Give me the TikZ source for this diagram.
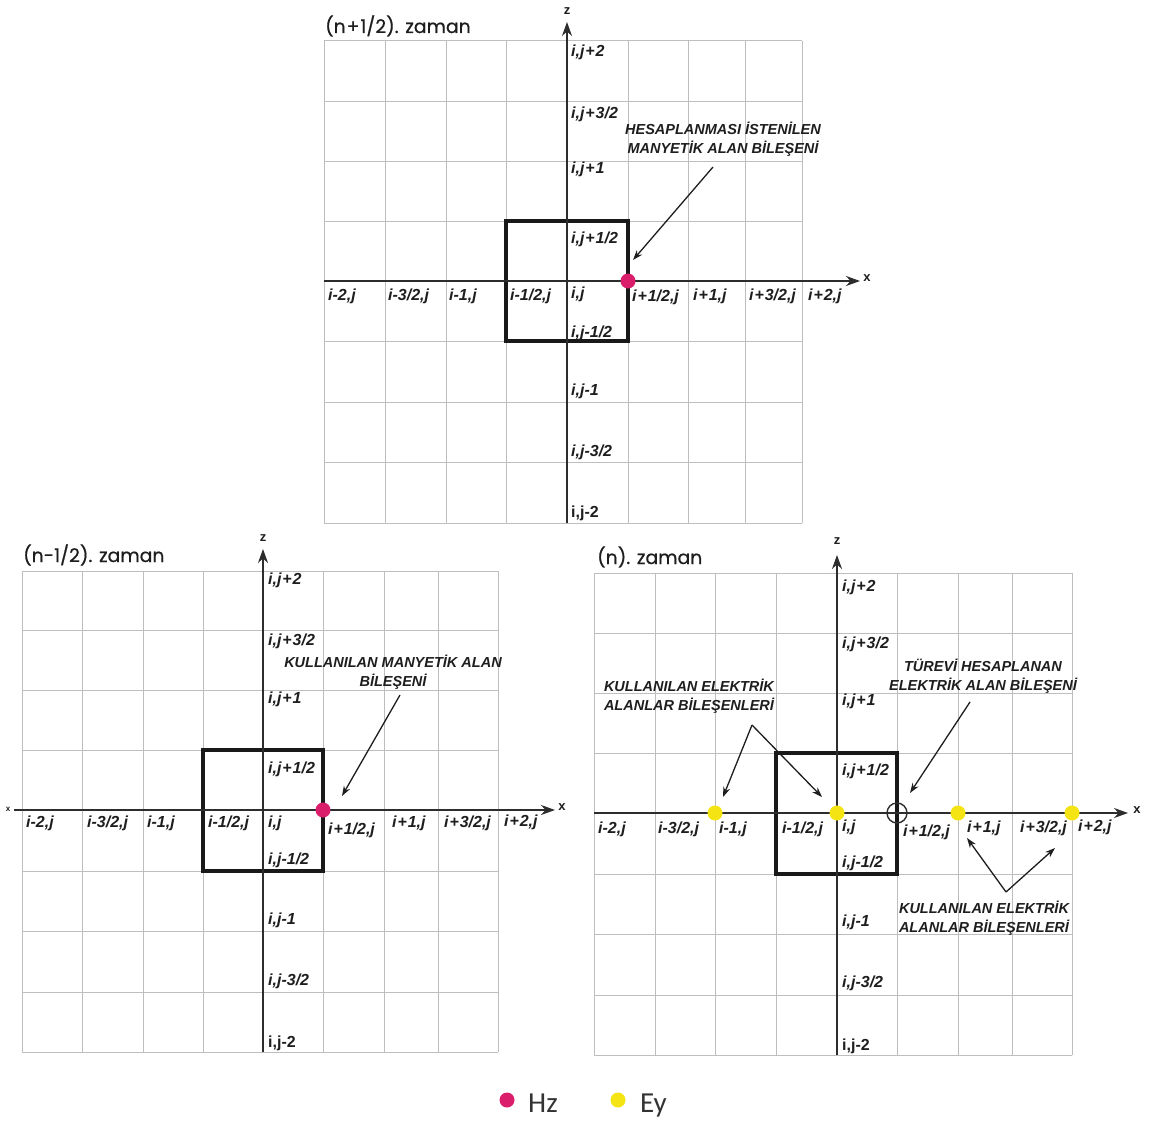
\documentclass[tikz,border=0pt]{standalone}
\usepackage{fontspec}
\setmainfont{Liberation Sans}
\newfontfamily\titlefont{Poppins}[FakeBold=0.6]
\newfontfamily\legfont{Carlito}
\usetikzlibrary{arrows.meta}
\definecolor{hzcol}{RGB}{218,30,108}
\definecolor{eycol}{RGB}{244,228,20}
\definecolor{gridcol}{RGB}{190,190,190}
\definecolor{axcol}{RGB}{45,45,45}
\definecolor{txtcol}{RGB}{30,30,30}
\newcommand\pls{\kern0.9pt+\kern0.9pt}
\begin{document}
\begin{tikzpicture}[x=1pt,y=-1pt,
 gridline/.style={draw=gridcol,line width=1pt},
 axis/.style={draw=axcol,line width=1.9pt,-{Stealth[length=14pt,width=10pt]}},
 cellbox/.style={draw=black!90,line width=3.2pt},
 lbl/.style={font=\fontsize{16}{16}\selectfont\bfseries\itshape,inner sep=0pt,anchor=base west,text=txtcol},
 lblup/.style={font=\fontsize{16}{16}\selectfont\bfseries,inner sep=0pt,anchor=base west,text=txtcol},
 ann/.style={font=\fontsize{14.5}{19}\selectfont\bfseries\itshape,align=center,inner sep=0pt,anchor=base,text=txtcol},
 annarrow/.style={draw=txtcol,line width=1.3pt,-{Stealth[length=10pt,width=7pt]}},
 ttl/.style={font=\titlefont\fontsize{18.8}{19}\selectfont,inner sep=0pt,anchor=base west,text=txtcol},
 axlbl/.style={font=\fontsize{13}{13}\selectfont\bfseries,inner sep=0pt,text=txtcol},
 hzdot/.style={circle,fill=hzcol,minimum size=15pt,inner sep=0pt},
 eydot/.style={circle,fill=eycol,minimum size=15pt,inner sep=0pt},
 hollow/.style={circle,draw=axcol,line width=1.4pt,minimum size=20pt,inner sep=0pt},
 legtxt/.style={font=\legfont\fontsize{29}{29}\selectfont,inner sep=0pt,anchor=base west,text=black!80},
]
\useasboundingbox[fill=white] (0,0) rectangle (1154,1124);

% ================= top panel: (n+1/2)
\foreach \x in {324,385,446,506,567,628,688,745,802} \draw[gridline] (\x,41) -- (\x,523);
\foreach \y in {41,101,161,221,281,341,402,462,523} \draw[gridline] (324,\y) -- (802,\y);
\draw[cellbox] (506,221) rectangle (628,341);
\coordinate (T-x0) at (324,281); \coordinate (T-x1) at (860,281);
\coordinate (T-z0) at (567,523); \coordinate (T-z1) at (567,22);
\draw[axis] (T-x0) -- (T-x1);
\draw[axis] (T-z0) -- (T-z1);
\node[axlbl] (T-xl) at (867,278) {x};
\node[axlbl] (T-zl) at (567,11) {z};
\node[ttl] (T-title) at (325,33) {(n\pls1/2). zaman};
\node[lbl] (T-z1l) at (571,57) {i,j\pls2};
\node[lbl] (T-z2l) at (571,118) {i,j\pls3/2};
\node[lbl] (T-z3l) at (571,173) {i,j\pls1};
\node[lbl] (T-z4l) at (571,243) {i,j\pls1/2};
\node[lbl] (T-z5l) at (571,298) {i,j};
\node[lbl] (T-z6l) at (571,337) {i,j-1/2};
\node[lbl] (T-z7l) at (571,395) {i,j-1};
\node[lbl] (T-z8l) at (571,456) {i,j-3/2};
\node[lblup] (T-z9l) at (571,517) {i,j-2};
\node[lbl] (T-x1l) at (328,300) {i-2,j};
\node[lbl] (T-x2l) at (388,300) {i-3/2,j};
\node[lbl] (T-x3l) at (449,300) {i-1,j};
\node[lbl] (T-x4l) at (510,300) {i-1/2,j};
\node[lbl] (T-x6l) at (632,301) {i\pls1/2,j};
\node[lbl] (T-x7l) at (693,300) {i\pls1,j};
\node[lbl] (T-x8l) at (749,300) {i\pls3/2,j};
\node[lbl] (T-x9l) at (808,300) {i\pls2,j};
\node[hzdot] (T-hz) at (628,281) {};
\node[ann] (T-ann) at (723,153) {HESAPLANMASI İSTENİLEN\\MANYETİK ALAN BİLEŞENİ};
\coordinate (T-a0) at (713,167); \coordinate (T-a1) at (633,260);
\draw[annarrow] (T-a0) -- (T-a1);

% ================= bottom-left panel: (n-1/2)
\foreach \x in {22,82,143,203,263,323,384,438,498} \draw[gridline] (\x,571) -- (\x,1052);
\foreach \y in {571,630,690,750,810,871,931,992,1052} \draw[gridline] (22,\y) -- (498,\y);
\draw[cellbox] (203,750) rectangle (323,871);
\coordinate (L-x0) at (14,810); \coordinate (L-x1) at (555,810);
\coordinate (L-z0) at (263,1052); \coordinate (L-z1) at (263,549);
\draw[axis] (L-x0) -- (L-x1);
\draw[axis] (L-z0) -- (L-z1);
\node[axlbl] (L-xl) at (562,807) {x};
\node[font=\fontsize{8}{8}\selectfont\bfseries,inner sep=0pt,text=txtcol] (L-xs) at (8,809) {x};
\node[axlbl] (L-zl) at (263,538) {z};
\node[ttl] (L-title) at (23,562) {(n-1/2). zaman};
\node[lbl] (L-z1l) at (268,584) {i,j\pls2};
\node[lbl] (L-z2l) at (268,645) {i,j\pls3/2};
\node[lbl] (L-z3l) at (268,703) {i,j\pls1};
\node[lbl] (L-z4l) at (268,773) {i,j\pls1/2};
\node[lbl] (L-z5l) at (268,827) {i,j};
\node[lbl] (L-z6l) at (268,864) {i,j-1/2};
\node[lbl] (L-z7l) at (268,924) {i,j-1};
\node[lbl] (L-z8l) at (268,985) {i,j-3/2};
\node[lblup] (L-z9l) at (268,1047) {i,j-2};
\node[lbl] (L-x1l) at (26,827) {i-2,j};
\node[lbl] (L-x2l) at (87,827) {i-3/2,j};
\node[lbl] (L-x3l) at (147,827) {i-1,j};
\node[lbl] (L-x4l) at (208,827) {i-1/2,j};
\node[lbl] (L-x6l) at (328,834) {i\pls1/2,j};
\node[lbl] (L-x7l) at (392,827) {i\pls1,j};
\node[lbl] (L-x8l) at (444,827) {i\pls3/2,j};
\node[lbl] (L-x9l) at (504,826) {i\pls2,j};
\node[hzdot] (L-hz) at (323,810) {};
\node[ann] (L-ann) at (393,686) {KULLANILAN MANYETİK ALAN\\BİLEŞENİ};
\coordinate (L-a0) at (400,695); \coordinate (L-a1) at (342,796);
\draw[annarrow] (L-a0) -- (L-a1);

% ================= bottom-right panel: (n)
\foreach \x in {594,655,715,776,837,897,958,1012,1072} \draw[gridline] (\x,573) -- (\x,1055);
\foreach \y in {573,633,693,753,813,874,934,995,1055} \draw[gridline] (594,\y) -- (1072,\y);
\draw[cellbox] (776,753) rectangle (897,874);
\coordinate (R-x0) at (594,813); \coordinate (R-x1) at (1128,813);
\coordinate (R-z0) at (837,1055); \coordinate (R-z1) at (837,555);
\draw[axis] (R-x0) -- (R-x1);
\draw[axis] (R-z0) -- (R-z1);
\node[axlbl] (R-xl) at (1137,810) {x};
\node[axlbl] (R-zl) at (837,541) {z};
\node[ttl] (R-title) at (597,564) {(n). zaman};
\node[lbl] (R-z1l) at (842,591) {i,j\pls2};
\node[lbl] (R-z2l) at (842,648) {i,j\pls3/2};
\node[lbl] (R-z3l) at (842,705) {i,j\pls1};
\node[lbl] (R-z4l) at (842,775) {i,j\pls1/2};
\node[lbl] (R-z5l) at (842,831) {i,j};
\node[lbl] (R-z6l) at (842,867) {i,j-1/2};
\node[lbl] (R-z7l) at (842,926) {i,j-1};
\node[lbl] (R-z8l) at (842,987) {i,j-3/2};
\node[lblup] (R-z9l) at (842,1050) {i,j-2};
\node[lbl] (R-x1l) at (598,833) {i-2,j};
\node[lbl] (R-x2l) at (658,833) {i-3/2,j};
\node[lbl] (R-x3l) at (719,833) {i-1,j};
\node[lbl] (R-x4l) at (782,833) {i-1/2,j};
\node[lbl] (R-x6l) at (903,836) {i\pls1/2,j};
\node[lbl] (R-x7l) at (967,832) {i\pls1,j};
\node[lbl] (R-x8l) at (1020,832) {i\pls3/2,j};
\node[lbl] (R-x9l) at (1078,831) {i\pls2,j};
\node[eydot] (R-e1) at (715,813) {};
\node[eydot] (R-e2) at (837,813) {};
\node[eydot] (R-e3) at (958,813) {};
\node[eydot] (R-e4) at (1072,813) {};
\node[hollow] (R-ex) at (897,813) {};
\node[ann] (R-ann1) at (689,710) {KULLANILAN ELEKTRİK\\ALANLAR BİLEŞENLERİ};
\coordinate (R-p1) at (752,725);
\coordinate (R-p1a) at (723,797); \coordinate (R-p1b) at (822,797);
\draw[annarrow] (R-p1) -- (R-p1a);
\draw[annarrow] (R-p1) -- (R-p1b);
\node[ann] (R-ann2) at (983,690) {TÜREVİ HESAPLANAN\\ELEKTRİK ALAN BİLEŞENİ};
\coordinate (R-a0) at (970,702); \coordinate (R-a1) at (910,793);
\draw[annarrow] (R-a0) -- (R-a1);
\node[ann] (R-ann3) at (984,932) {KULLANILAN ELEKTRİK\\ALANLAR BİLEŞENLERİ};
\coordinate (R-p2) at (1006,892);
\coordinate (R-p2a) at (967,838); \coordinate (R-p2b) at (1055,848);
\draw[annarrow] (R-p2) -- (R-p2a);
\draw[annarrow] (R-p2) -- (R-p2b);

% ================= legend
\node[hzdot] (G-hz) at (507,1100) {};
\node[legtxt] (G-hzt) at (528,1112) {Hz};
\node[eydot] (G-ey) at (618,1100) {};
\node[legtxt] (G-eyt) at (640,1112) {Ey};
\end{tikzpicture}
\end{document}
